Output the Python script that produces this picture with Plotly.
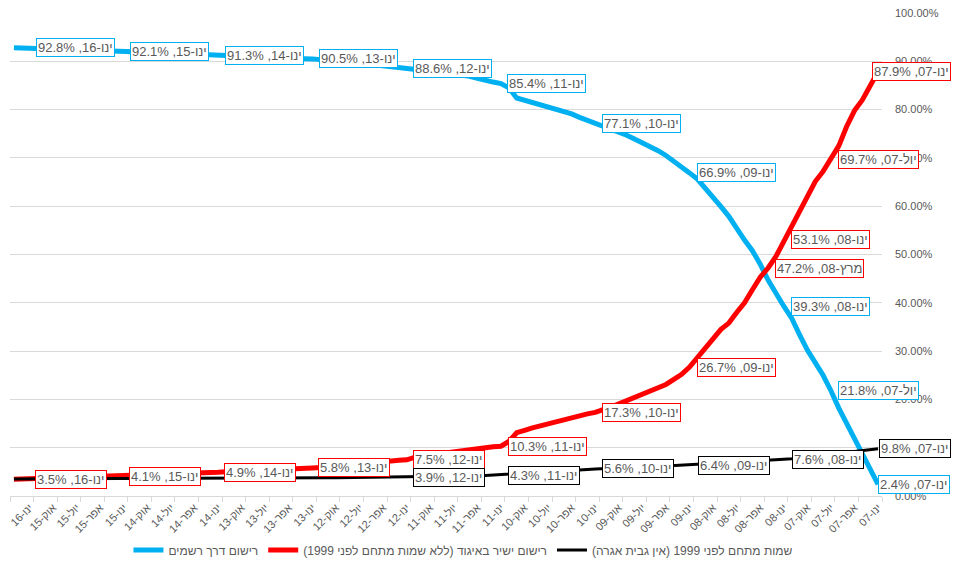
import plotly.graph_objects as go

# ---- categories (months, Jan-07 .. Mar-16) ----
heb_months = ['ינו', 'פבר', 'מרץ', 'אפר', 'מאי', 'יונ', 'יול', 'אוג', 'ספט', 'אוק', 'נוב', 'דצמ']
months = [f"{heb_months[i % 12]}-{7 + i // 12:02d}" for i in range(111)]

# ---- series values (%), index 0 = ינו-07 ----
blue = [2.4, 5.5, 8.7, 11.8, 14.6, 18.2, 21.8, 25.0, 27.6, 30.2, 33.4, 36.8,
        39.3, 42.0, 44.7, 48.0, 50.8, 53.0, 55.6, 57.9, 59.9, 61.8, 63.8, 65.6,
        66.9, 68.2, 69.5, 70.5, 71.5, 72.4, 73.1, 73.9, 74.7, 75.3, 75.8, 76.4,
        77.1, 77.6, 78.4, 79.1, 79.6, 80.1, 80.6, 81.0, 81.5, 81.9, 82.4, 84.5,
        85.4, 85.7, 86.0, 86.5, 86.9, 87.2, 87.4, 87.6, 87.8, 88.0, 88.2, 88.4,
        88.6, 88.8, 89.0, 89.2, 89.4, 89.5, 89.7, 89.8, 89.9, 90.1, 90.2, 90.35,
        90.5, 90.55, 90.6, 90.65, 90.7, 90.8, 90.85, 90.9, 91.0, 91.05, 91.1, 91.2,
        91.3, 91.35, 91.4, 91.5, 91.55, 91.6, 91.7, 91.75, 91.8, 91.9, 91.95, 92.0,
        92.1, 92.15, 92.2, 92.25, 92.3, 92.4, 92.45, 92.5, 92.55, 92.6, 92.65, 92.7,
        92.8, 92.8, 92.8]
red = [87.9, 85.0, 82.0, 79.8, 76.5, 72.5, 69.7, 67.2, 65.1, 62.0, 58.9, 55.8,
       53.1, 49.6, 47.2, 45.3, 42.7, 40.0, 38.0, 35.8, 34.5, 32.5, 30.5, 28.7,
       26.7, 25.2, 24.0, 23.1, 22.4, 21.7, 21.0, 20.4, 19.6, 19.0, 18.4, 17.9,
       17.3, 17.0, 16.6, 16.2, 15.9, 15.5, 15.1, 14.6, 14.1, 13.6, 13.1, 11.3,
       10.3, 10.2, 10.0, 9.9, 9.7, 9.5, 9.3, 9.0, 8.8, 8.6, 8.3, 8.0,
       7.5, 7.4, 7.2, 7.1, 6.9, 6.8, 6.6, 6.5, 6.3, 6.2, 6.1, 5.9,
       5.8, 5.75, 5.7, 5.6, 5.55, 5.5, 5.4, 5.3, 5.25, 5.15, 5.1, 5.0,
       4.9, 4.85, 4.8, 4.7, 4.65, 4.6, 4.5, 4.45, 4.4, 4.3, 4.25, 4.2,
       4.1, 4.05, 4.0, 3.95, 3.9, 3.85, 3.8, 3.75, 3.7, 3.65, 3.6, 3.55,
       3.5, 3.5, 3.45]
black = [9.8, 9.6, 9.4, 9.2, 9.0, 8.8, 8.6, 8.4, 8.2, 8.0, 7.9, 7.7,
         7.6, 7.5, 7.4, 7.3, 7.2, 7.1, 7.0, 6.9, 6.8, 6.7, 6.6, 6.5,
         6.4, 6.35, 6.3, 6.2, 6.15, 6.1, 6.0, 5.95, 5.9, 5.8, 5.75, 5.7,
         5.6, 5.5, 5.4, 5.3, 5.2, 5.1, 5.0, 4.9, 4.8, 4.7, 4.55, 4.4,
         4.3, 4.27, 4.24, 4.2, 4.17, 4.14, 4.1, 4.07, 4.03, 4.0, 3.97, 3.93,
         3.9, 3.88, 3.86, 3.85, 3.83, 3.82, 3.8, 3.79, 3.78, 3.77, 3.76, 3.75,
         3.74, 3.73, 3.72, 3.72, 3.71, 3.7, 3.7, 3.69, 3.68, 3.68, 3.67, 3.66,
         3.66, 3.65, 3.65, 3.64, 3.64, 3.63, 3.63, 3.62, 3.62, 3.61, 3.61, 3.6,
         3.6, 3.59, 3.59, 3.58, 3.58, 3.57, 3.57, 3.56, 3.56, 3.55, 3.55, 3.54,
         3.54, 3.53, 3.53]

series_names = ['רישום דרך רשמים',
                'רישום ישיר באיגוד (ללא שמות מתחם לפני 1999)',
                'שמות מתחם לפני 1999 (אין גבית אגרה)']
colors = ['#00B0F0', '#FF0000', '#000000']
widths = [5, 5, 3]

# labelled points: (series index, month index, pixel offset of box)
labels = [
    (0, 108, 6), (0, 96, 6), (0, 84, 7), (0, 72, 7), (0, 60, 6), (0, 48, 6),
    (0, 36, 7), (0, 24, 7), (0, 12, 7), (0, 6, 7), (0, 0, 0),
    (1, 108, 5), (1, 96, 5), (1, 84, 6), (1, 72, 6), (1, 60, 6), (1, 48, 7),
    (1, 36, 7), (1, 24, 7), (1, 14, 7), (1, 12, 7), (1, 6, 7), (1, 0, -6),
    (2, 60, 6), (2, 48, 7), (2, 36, 7), (2, 24, 8), (2, 12, 8), (2, 0, 1),
]

FONT = 'Arial, Liberation Sans, DejaVu Sans, sans-serif'
GRAY = '#595959'

idx = list(range(len(months)))
data = [blue, red, black]
fig = go.Figure()
for name, vals, col, w in zip(series_names, data, colors, widths):
    fig.add_trace(go.Scatter(x=idx, y=vals, mode='lines', name=name,
                             line=dict(color=col, width=w), cliponaxis=False,
                             hoverinfo='skip'))

for s, m, off in labels:
    v = data[s][m]
    fig.add_annotation(
        x=m, y=v, xref='x', yref='y',
        text=f"{months[m]}, {v:.1f}%",
        showarrow=False, xshift=off, xanchor='left', yanchor='middle',
        bgcolor='white', bordercolor=colors[s], borderwidth=1, borderpad=1,
        font=dict(family=FONT, size=13, color=GRAY))

tick_vals = idx[:109:3]
tick_text = [months[i] for i in tick_vals]
boundary_ticks = [i - 0.5 for i in range(0, 112, 3)]

fig.update_layout(
    width=953, height=565,
    margin=dict(l=10, r=71, t=13, b=69, autoexpand=False),
    paper_bgcolor='white', plot_bgcolor='white',
    font=dict(family=FONT, size=12, color=GRAY),
    hovermode=False,
    showlegend=True,
    legend=dict(orientation='h', x=0.52, y=-0.112, xanchor='center', yanchor='middle',
                font=dict(family=FONT, size=12, color=GRAY)),
)
fig.update_xaxes(type='linear', range=[110.5, -0.5], tickmode='array',
                 tickvals=tick_vals, ticktext=tick_text,
                 tickangle=-45, showgrid=False, zeroline=False,
                 showline=True, linecolor='#D9D9D9', ticks='', automargin=False,
                 minor=dict(tickmode='array', tickvals=boundary_ticks, ticks='outside',
                            ticklen=5, tickcolor='#D9D9D9', showgrid=False),
                 tickfont=dict(family=FONT, size=11, color=GRAY))
fig.update_yaxes(side='right', range=[0, 100], dtick=10, tickformat='.2f', ticksuffix='%',
                 showgrid=True, gridcolor='#D9D9D9', zeroline=False, showline=False,
                 ticks='', ticklabelstandoff=12, automargin=False,
                 tickfont=dict(family=FONT, size=11, color=GRAY))

fig.write_html("out.html", config={'displayModeBar': False},
               post_script="document.body.style.margin='0px';")
